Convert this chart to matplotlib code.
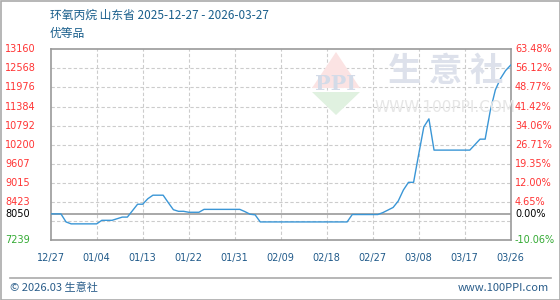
import matplotlib
matplotlib.use('Agg')
import numpy as np
import matplotlib.pyplot as plt
from matplotlib import transforms
from matplotlib.patches import Rectangle, Polygon

plt.rcParams['font.family'] = ['Noto Sans CJK SC', 'DejaVu Sans']

title = '环氧丙烷 山东省 2025-12-27 - 2026-03-27'
subtitle = '优等品'
x_labels = ['12/27', '01/04', '01/13', '01/22', '01/31', '02/09',
            '02/18', '02/27', '03/08', '03/17', '03/26']
left_ticks = [13160, 12568, 11976, 11384, 10792, 10200, 9607, 9015, 8423, 8050, 7239]
right_labels = ['63.48%', '56.12%', '48.77%', '41.42%', '34.06%', '26.71%',
                '19.35%', '12.00%', '4.65%', '0.00%', '-10.06%']
base_price = 8050
y_min, y_max = 7239, 13160

# daily price, 2025-12-27 .. 2026-03-27
prices = [8050, 8050, 8050, 7800, 7740, 7740, 7740, 7740, 7740, 7740,
          7850, 7850, 7850, 7900, 7950, 7950, 8150, 8350, 8350, 8520,
          8630, 8630, 8630, 8400, 8180, 8130, 8130, 8100, 8100, 8100,
          8190, 8190, 8190, 8190, 8190, 8190, 8190, 8190, 8120, 8040,
          8020, 7800, 7800, 7800, 7800, 7800, 7800, 7800, 7800, 7800,
          7800, 7800, 7800, 7800, 7800, 7800, 7800, 7800, 7800, 8030,
          8030, 8030, 8030, 8030, 8030, 8090, 8170, 8250, 8450, 8790,
          9030, 9030, 9900, 10750, 11000, 10030, 10030, 10030, 10030, 10030,
          10030, 10030, 10030, 10200, 10370, 10370, 11250, 11900, 12250, 12500,
          12670]

fig = plt.figure(figsize=(5.6, 3.0), dpi=100)
ax = fig.add_axes([50.7 / 560, 1 - 240 / 300, 460 / 560, 190.7 / 300])

days = np.arange(len(prices))
ax.set_xlim(0, len(prices) - 1)
ax.set_ylim(y_min, y_max)

# grid
for g in np.linspace(y_min, y_max, 11)[1:-1]:
    ax.axhline(g, color='#cccccc', lw=0.8, ls=(0, (3, 2)), zorder=1)
tick_pos = np.linspace(0, len(prices) - 1, len(x_labels))
for t in tick_pos[1:-1]:
    ax.axvline(t, color='#cccccc', lw=0.8, ls=(0, (3, 2)), zorder=1)
ax.axhline(base_price, color='#999999', lw=1.2, zorder=2)

# watermark
wm = dict(transform=fig.transFigure, zorder=0)
fig.patches.append(Polygon([[312 / 560, 1 - 88 / 300], [360 / 560, 1 - 88 / 300], [336 / 560, 1 - 52 / 300]],
                           closed=True, fc='#fbe3e3', ec='none', **wm))
fig.patches.append(Polygon([[312 / 560, 1 - 92 / 300], [360 / 560, 1 - 92 / 300], [336 / 560, 1 - 115 / 300]],
                           closed=True, fc='#e0f1e0', ec='none', **wm))
fig.text(336 / 560, 1 - 84 / 300, 'PPI', color='#d3dbe8', fontsize=15, fontweight='bold',
         ha='center', va='center', family='DejaVu Serif', zorder=0)
fig.text(446 / 560, 1 - 72 / 300, '生 意 社', color='#dde1eb', fontsize=24, fontweight='bold',
         ha='center', va='center', zorder=0)
fig.text(445 / 560, 1 - 107 / 300, 'WWW.100PPI.COM', color='#e6e6e6', fontsize=11,
         ha='center', va='center', family='DejaVu Sans', zorder=0)
ax.patch.set_alpha(0)

ax.plot(days, prices, color='#3a96d6', lw=1.0, zorder=3)

ax.set_xticks(tick_pos)
ax.set_xticklabels(x_labels, fontsize=7, color='#205a8a', family='DejaVu Sans')
ax.tick_params(axis='x', length=0, pad=9)
ax.set_yticks([])
for s in ax.spines.values():
    s.set_color('#999999')
    s.set_linewidth(1.2)

# y labels, both sides
trans = transforms.blended_transform_factory(fig.transFigure, ax.transData)
for v, p in zip(left_ticks, right_labels):
    if v == base_price:
        c = 'black'
    elif v < base_price:
        c = '#33aa33'
    else:
        c = '#ff3333'
    fig.text(5 / 560, v, str(v), transform=trans, color=c, fontsize=7,
             ha='left', va='center', family='DejaVu Sans')
    fig.text(515 / 560, v, p, transform=trans, color=c, fontsize=7,
             ha='left', va='center', family='DejaVu Sans')

fig.text(50 / 560, 1 - 15 / 300, title, color='#1a5f8c', fontsize=8.5, ha='left', va='center')
fig.text(50 / 560, 1 - 33 / 300, subtitle, color='#1a5f8c', fontsize=8.5, ha='left', va='center')

# footer
fig.add_artist(plt.Line2D([10 / 560, 551 / 560], [1 - 277.5 / 300] * 2, color='#aaaaaa', lw=1.2,
                          transform=fig.transFigure))
fig.text(10 / 560, 1 - 288 / 300, '© 2026.03 生意社', color='#2a5d8a', fontsize=8, ha='left', va='center')
fig.text(549 / 560, 1 - 288 / 300, 'www.100PPI.com', color='#2a5d8a', fontsize=8, ha='right', va='center')
fig.patches.append(Rectangle((0.5 / 560, 0.5 / 300), 559 / 560, 299 / 300, fill=False,
                             ec='#aaaaaa', lw=1.2, transform=fig.transFigure))

fig.savefig('out.png', dpi=100)
